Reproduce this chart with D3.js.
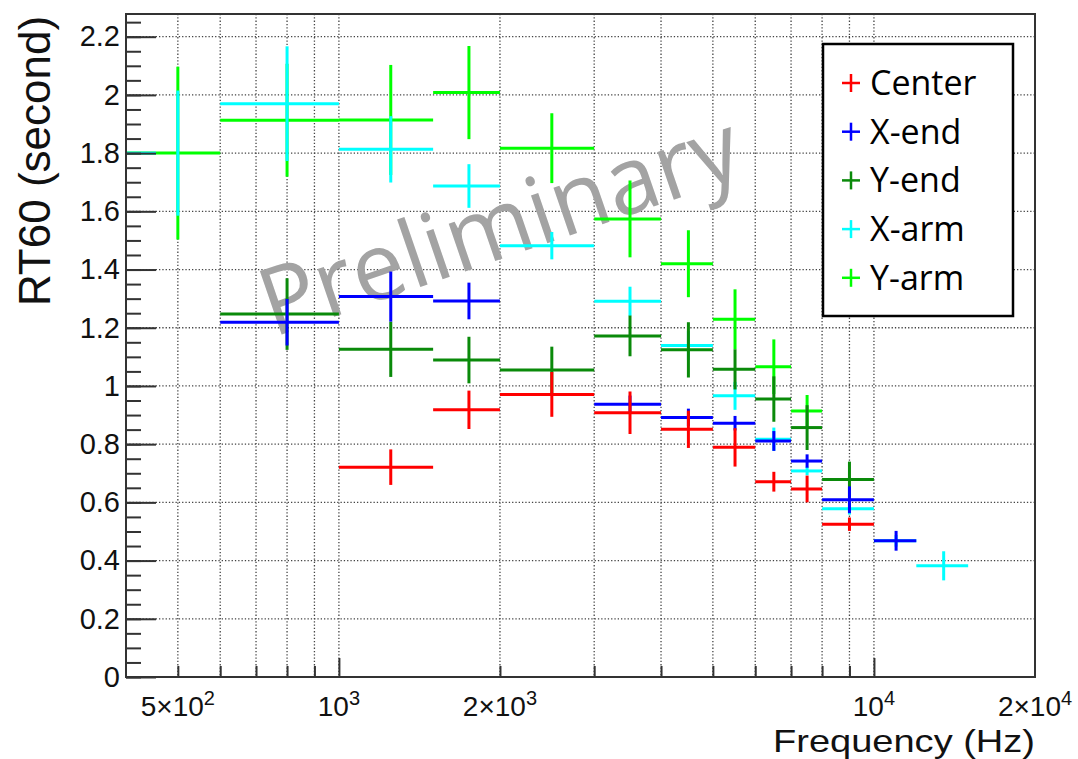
<!DOCTYPE html>
<html>
<head>
<meta charset="utf-8">
<script src="https://cdn.jsdelivr.net/npm/d3@7"></script>
<style>
  body { margin: 0; background: #fff; }
  text { font-family: "Liberation Sans", Arial, sans-serif; }
</style>
</head>
<body>
<svg width="1078" height="759"></svg>
<script>
// frequency bands (Hz), marker sits at the middle of each band
const binLow  = [400, 600, 1000, 1500, 2000, 3000, 4000, 5000, 6000, 7000, 8000, 10000, 12000];
const binHigh = [600, 1000, 1500, 2000, 3000, 4000, 5000, 6000, 7000, 8000, 10000, 12000, 15000];

// RT60 values (s) and errors per band, null = no point
const centerVal = [null, null, 0.721, 0.918, 0.971, 0.908, 0.851, 0.789, 0.671, 0.646, 0.525, null, null];
const centerErr = [null, null, 0.061, 0.066, 0.077, 0.073, 0.064, 0.066, 0.034, 0.046, 0.023, null, null];

const xEndVal = [null, 1.219, 1.307, 1.292, null, 0.937, 0.892, 0.872, 0.811, 0.742, 0.609, 0.468, null];
const xEndErr = [null, 0.080, 0.086, 0.063, null, 0.030, 0.030, 0.025, 0.034, 0.023, 0.046, 0.034, null];

const yEndVal = [null, 1.247, 1.126, 1.089, 1.055, 1.172, 1.124, 1.057, 0.955, 0.857, 0.679, null, null];
const yEndErr = [null, 0.123, 0.095, 0.080, 0.080, 0.070, 0.095, 0.069, 0.078, 0.077, 0.061, null, null];

const xArmVal = [1.800, 1.970, 1.813, 1.687, 1.482, 1.291, 1.139, 0.966, 0.817, 0.708, 0.578, 0.468, 0.382];
const xArmErr = [0.215, 0.197, 0.114, 0.075, 0.047, 0.050, 0.050, 0.048, 0.040, 0.015, 0.020, 0.020, 0.050];
const xArmHigh0 = 455; // first X-arm band stops short of 600 Hz in the plot

const yArmVal = [1.800, 1.913, 1.914, 2.008, 1.817, 1.574, 1.420, 1.229, 1.066, 0.914, null, null, null];
const yArmErr = [0.297, 0.194, 0.189, 0.160, 0.120, 0.132, 0.115, 0.103, 0.094, 0.055, null, null, null];

const seriesNames  = ["Center", "X-end", "Y-end", "X-arm", "Y-arm"];
const seriesColors = ["#ff0000", "#0000ff", "#0a8a0a", "#00ffff", "#00ff00"];

// axis ticks
const xMajor = [500, 1000, 2000, 10000, 20000];
const xMant  = ["5", "", "2", "", "2"];
const xExp   = ["2", "3", "3", "4", "4"];
const xMinor = [600, 700, 800, 900, 3000, 4000, 5000, 6000, 7000, 8000, 9000];
const yMajor = [0, 0.2, 0.4, 0.6, 0.8, 1, 1.2, 1.4, 1.6, 1.8, 2, 2.2];
const yMinor = d3.range(0, 46).map(i => i * 0.05);

const plot = {left: 126, right: 1035, top: 14, bottom: 677};

const x = d3.scaleLog().domain([400, 20000]).range([plot.left, plot.right]);
const y = d3.scaleLinear().domain([0, 2.278]).range([plot.bottom, plot.top]);

const svg = d3.select("svg");

// grid
const grid = svg.append("g")
    .attr("stroke", "#444")
    .attr("stroke-width", 1.3)
    .attr("stroke-dasharray", "1.3,2");
grid.selectAll(".gx").data(xMajor.concat(xMinor).filter(d => d < 20000)).enter()
    .append("line")
    .attr("x1", d => x(d)).attr("x2", d => x(d))
    .attr("y1", plot.top).attr("y2", plot.bottom);
grid.selectAll(".gy").data(yMajor.filter(d => d > 0)).enter()
    .append("line")
    .attr("x1", plot.left).attr("x2", plot.right)
    .attr("y1", d => y(d)).attr("y2", d => y(d));

// watermark
svg.append("text")
    .attr("transform", "translate(510,256) rotate(-19)")
    .attr("text-anchor", "middle")
    .style("font-family", "'Open Sans', sans-serif")
    .attr("font-size", 94)
    .attr("fill", "#a3a3a3")
    .text("Preliminary");

// data, drawn back to front
const seriesData = [
    {name: "Y-arm", val: yArmVal, err: yArmErr, color: seriesColors[4]},
    {name: "X-arm", val: xArmVal, err: xArmErr, color: seriesColors[3]},
    {name: "Y-end", val: yEndVal, err: yEndErr, color: seriesColors[2]},
    {name: "X-end", val: xEndVal, err: xEndErr, color: seriesColors[1]},
    {name: "Center", val: centerVal, err: centerErr, color: seriesColors[0]}
];

seriesData.forEach(s => {
    const pts = [];
    s.val.forEach((v, i) => {
        if (v === null) return;
        let hi = binHigh[i];
        if (s.name === "X-arm" && i === 0) hi = xArmHigh0;
        pts.push({lo: binLow[i], hi: hi, c: (binLow[i] + binHigh[i]) / 2, v: v, e: s.err[i]});
    });
    const g = svg.append("g")
        .attr("stroke", s.color)
        .attr("stroke-width", 3);
    g.selectAll(".h").data(pts).enter().append("line")
        .attr("x1", d => x(d.lo)).attr("x2", d => x(d.hi))
        .attr("y1", d => y(d.v)).attr("y2", d => y(d.v));
    g.selectAll(".v").data(pts).enter().append("line")
        .attr("x1", d => x(d.c)).attr("x2", d => x(d.c))
        .attr("y1", d => y(d.v - d.e)).attr("y2", d => y(d.v + d.e));
});

// frame
svg.append("rect")
    .attr("x", plot.left).attr("y", plot.top)
    .attr("width", plot.right - plot.left).attr("height", plot.bottom - plot.top)
    .attr("fill", "none").attr("stroke", "#333").attr("stroke-width", 2);

// Y axis
const yAxis = svg.append("g")
    .attr("transform", `translate(${plot.left},0)`)
    .call(d3.axisLeft(y).tickValues(yMajor).tickSize(-30).tickPadding(6)
        .tickFormat(d => d3.format("~g")(d)));
svg.append("g")
    .attr("transform", `translate(${plot.left},0)`)
    .call(d3.axisLeft(y).tickValues(yMinor).tickSize(-15).tickFormat(""));
svg.selectAll(".domain").remove();
svg.selectAll(".tick line").attr("stroke", "#333").attr("stroke-width", 2);
yAxis.selectAll("text")
    .attr("font-size", 29)
    .attr("fill", "#111")
    .style("font-family", "'Liberation Sans', Arial, sans-serif");

// X axis ticks
svg.append("g")
    .attr("transform", `translate(0,${plot.bottom})`)
    .call(d3.axisBottom(x).tickValues([1000, 10000]).tickSize(-19).tickFormat(""))
    .call(g => g.select(".domain").remove());
svg.append("g")
    .attr("transform", `translate(0,${plot.bottom})`)
    .call(d3.axisBottom(x).tickValues([500, 2000].concat(xMinor)).tickSize(-11).tickFormat(""))
    .call(g => g.select(".domain").remove());
svg.selectAll(".tick line").attr("stroke", "#333").attr("stroke-width", 2);

// X tick labels with exponents
const xl = svg.append("g");
xMajor.forEach((v, i) => {
    const t = xl.append("text")
        .attr("x", x(v)).attr("y", plot.bottom + 39)
        .attr("text-anchor", "middle")
        .attr("font-size", 28).attr("fill", "#111");
    t.append("tspan").text((xMant[i] ? xMant[i] + "×" : "") + "10");
    t.append("tspan").attr("dy", -11).attr("font-size", 20).text(xExp[i]);
});

// axis titles
svg.append("text")
    .attr("transform", "translate(50,161) rotate(-90)")
    .attr("text-anchor", "middle")
    .attr("font-size", 44).attr("fill", "#111")
    .text("RT60 (second)");
svg.append("text")
    .attr("x", plot.right).attr("y", 752)
    .attr("text-anchor", "end")
    .attr("font-size", 32).attr("fill", "#111")
    .attr("textLength", 262).attr("lengthAdjust", "spacingAndGlyphs")
    .text("Frequency (Hz)");

// legend
const legend = svg.append("g");
legend.append("rect")
    .attr("x", 823).attr("y", 44).attr("width", 190).attr("height", 272)
    .attr("fill", "#fff").attr("stroke", "#000").attr("stroke-width", 2.5);
seriesNames.forEach((name, i) => {
    const cy = 83 + i * 48.7;
    const m = legend.append("g").attr("stroke", seriesColors[i]).attr("stroke-width", 2.5);
    m.append("line").attr("x1", 842).attr("x2", 860).attr("y1", cy).attr("y2", cy);
    m.append("line").attr("x1", 851).attr("x2", 851).attr("y1", cy - 9).attr("y2", cy + 9);
    legend.append("text")
        .attr("x", 870).attr("y", cy + 12)
        .style("font-family", "'Open Sans', sans-serif")
        .attr("font-size", 34).attr("fill", "#000")
        .text(name);
});
</script>
</body>
</html>
